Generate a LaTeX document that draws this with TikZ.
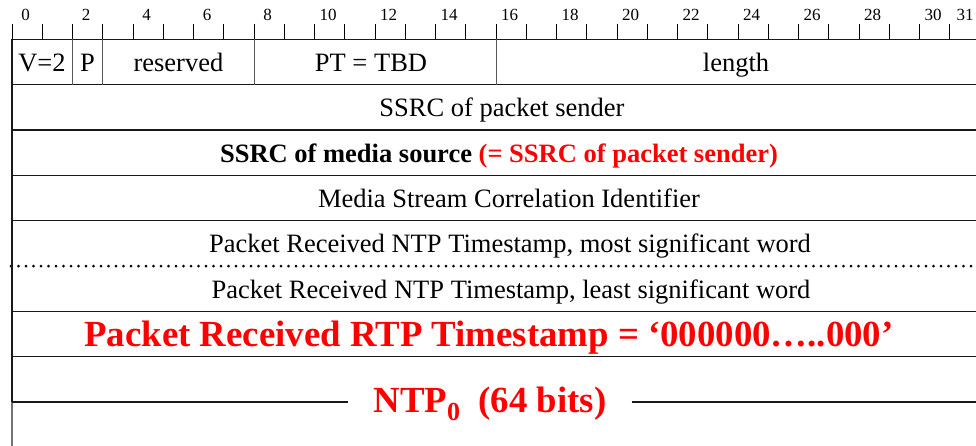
\documentclass[tikz,border=0pt]{standalone}
\usepackage{fontspec}
\setmainfont{Liberation Serif}
\tikzset{
  field/.style={font=\fontsize{26.5}{30}\selectfont, anchor=base, inner sep=0pt},
  fieldbold/.style={field, font=\fontsize{26.5}{30}\selectfont\bfseries},
  bitnum/.style={font=\fontsize{17}{18}\selectfont, anchor=base, inner sep=0pt},
  redbig/.style={font=\fontsize{36.8}{40}\selectfont\bfseries, text=red, anchor=base, inner sep=0pt},
  rowline/.style={line width=1.3pt, black!90},
  divline/.style={line width=1pt, black!65},
}
\begin{document}
\begin{tikzpicture}[x=1pt, y=-1pt]
        \useasboundingbox (0,0) rectangle (976,446);
        \clip (0,0) rectangle (976,446);
        \fill[white] (0,0) rectangle (976,446);

        % Bit ruler
        \foreach \b in {0,...,31} {
            \draw[line width=0.9pt] (12+30.25*\b, 24) -- (12+30.25*\b, 39.3);
        }
        \foreach \b in {0,2,...,30} {
            \node[bitnum] (bit\b) at (25.5+30.25*\b, 20.5) {\b};
        }
        \node[bitnum] (bit31) at (965, 20.5) {31};

        % Word boundaries
        \foreach \k in {0,1,2,3,4,6,7} {
            \draw[rowline] (12, 39.3+45.35*\k) -- (980, 39.3+45.35*\k);
        }
        \draw[line width=3pt, line cap=round, dash pattern=on 0pt off 7.5pt] (11, 266.05) -- (980, 266.05);
        \draw[rowline] (12, 39.3) -- (12, 402.1);
        \draw[line width=1.2pt, black!55] (12, 402.1) -- (12, 446);

        % First word fields
        \foreach \b in {2,3,8,16} {
            \draw[divline] (12+30.25*\b, 39.3) -- (12+30.25*\b, 84.65);
        }
        \node[field] (ver) at (42, 71.5) {V=2};
        \node[field] (pad) at (87.6, 71.5) {P};
        \node[field] (rsv) at (178.4, 71.5) {reserved};
        \node[field] (pt) at (371, 71.5) {PT = TBD};
        \node[field] (len) at (736, 71.5) {length};

        % Remaining words
        \node[field] (sender) at (502, 116.8) {SSRC of packet sender};
        \node[fieldbold] (media) at (499, 162.2) {SSRC of media source \textcolor{red}{(= SSRC of packet sender)}};
        \node[field] (mscid) at (509, 207.5) {Media Stream Correlation Identifier};
        \node[field] (ntpmsw) at (510, 252.9) {Packet Received NTP Timestamp, most significant word};
        \node[field] (ntplsw) at (511, 298.2) {Packet Received NTP Timestamp, least significant word};
        \node[redbig] (rtpts) at (489, 346) {Packet Received RTP Timestamp = ‘000000…..000’};

        % NTP_0 word, label sits on the line
        \coordinate (lft) at (12, 402.1);
        \coordinate (rgt) at (980, 402.1);
        \node[redbig, inner xsep=25pt] (ntp0) at (490, 412) {NTP\raisebox{-8pt}{\fontsize{26}{26}\selectfont 0}\ \ (64 bits)};
        \draw[rowline] (lft) -- (ntp0.west |- lft);
        \draw[rowline] (ntp0.east |- rgt) -- (rgt);
    \end{tikzpicture}
\end{document}
